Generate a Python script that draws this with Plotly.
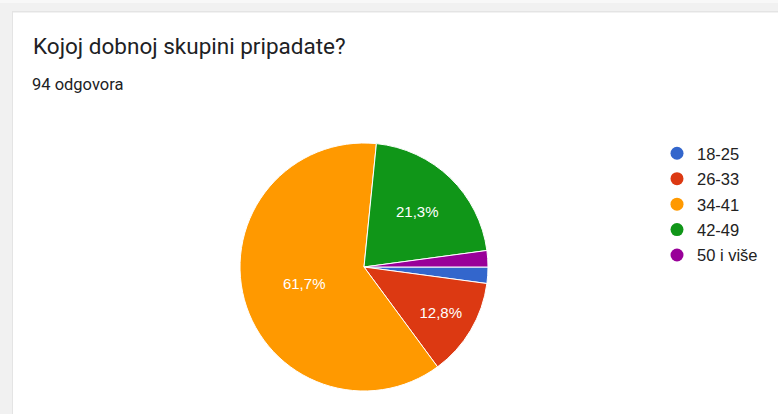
import plotly.graph_objects as go

# Data
categories = ["18-25", "26-33", "34-41", "42-49", "50 i više"]
counts = [2, 12, 58, 20, 2]
colors = ["#3366cc", "#dc3912", "#ff9900", "#109618", "#990099"]
title_text = "Kojoj dobnoj skupini pripadate?"
subtitle_text = "94 odgovora"

W, H = 778, 414
total = sum(counts)
templates = ["%{percent:.1%}" if c / total >= 0.05 else "" for c in counts]

fig = go.Figure()

# pie: center ~ (364, 267), radius ~124 px
cx, cy, r = 364, 267, 124
fig.add_trace(go.Pie(
    labels=categories,
    values=counts,
    sort=False,
    direction="clockwise",
    rotation=90,
    marker=dict(colors=colors, line=dict(color="white", width=1)),
    texttemplate=templates,
    textposition="inside",
    insidetextorientation="horizontal",
    textfont=dict(family="Liberation Sans, Arial", size=15, color="white"),
    domain=dict(x=[(cx - r) / W, (cx + r) / W], y=[1 - (cy + r) / H, 1 - (cy - r) / H]),
    showlegend=False,
    hoverinfo="label+percent",
))

# legend entries as circle markers
for name, col in zip(categories, colors):
    fig.add_trace(go.Scatter(
        x=[None], y=[None], mode="markers", name=name,
        marker=dict(color=col, size=13, symbol="circle"),
        legendgroup=name,
    ))

fig.update_xaxes(visible=False)
fig.update_yaxes(visible=False)

# card background
shapes = [
    dict(type="rect", xref="paper", yref="paper", x0=0, x1=1, y0=1 - 3 / H, y1=1,
         fillcolor="#f8f8f8", line=dict(width=0), layer="below"),
    dict(type="rect", xref="paper", yref="paper", x0=12 / W, x1=1.01, y0=-0.01, y1=1 - 11 / H,
         fillcolor="#e4e4e4", line=dict(width=0), layer="below"),
    dict(type="rect", xref="paper", yref="paper", x0=13 / W, x1=1.01, y0=-0.01, y1=1 - 12.5 / H,
         fillcolor="#ffffff", line=dict(width=0), layer="below"),
]

annotations = [
    dict(text=title_text, xref="paper", yref="paper", x=31 / W, y=1 - 31 / H,
         xanchor="left", yanchor="top", showarrow=False,
         font=dict(family="Roboto", size=22.5, color="#202124")),
    dict(text=subtitle_text, xref="paper", yref="paper", x=30 / W, y=1 - 73 / H,
         xanchor="left", yanchor="top", showarrow=False,
         font=dict(family="Roboto", size=16.5, color="#202124")),
]

fig.update_layout(
    width=W, height=H,
    margin=dict(l=0, r=0, t=0, b=0),
    paper_bgcolor="#f1f1f1",
    plot_bgcolor="rgba(0,0,0,0)",
    separators=",.",
    shapes=shapes,
    annotations=annotations,
    showlegend=True,
    legend=dict(
        x=657 / W, y=1 - 136 / H, xanchor="left", yanchor="top",
        font=dict(family="Liberation Sans, Arial", size=16.5, color="#222222"),
        bgcolor="rgba(0,0,0,0)",
        traceorder="grouped", tracegroupgap=1,
        itemclick=False, itemdoubleclick=False,
    ),
)

fig.write_html("out.html", config={"displayModeBar": False},
               post_script="document.body.style.margin='0';")
